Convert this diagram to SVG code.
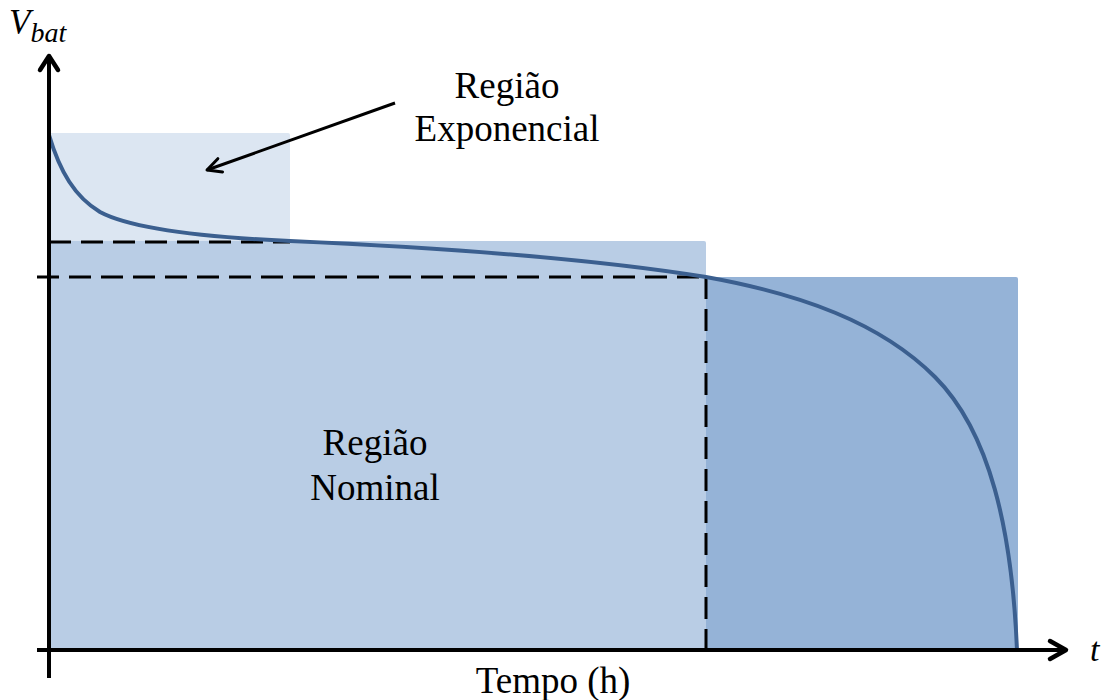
<svg xmlns="http://www.w3.org/2000/svg" width="1107" height="700" viewBox="0 0 1107 700">
<style>
.lbl{font-family:"Liberation Serif",Tinos,"Times New Roman","DejaVu Serif",serif;font-size:37px;fill:#000;text-anchor:middle}
.mth{font-family:"Liberation Serif",Tinos,"Times New Roman","DejaVu Serif",serif;font-style:italic;fill:#000}
.dash{stroke:#000;stroke-width:3;stroke-dasharray:22 10;fill:none}
.axis{stroke:#000;stroke-width:4;fill:none}
.head{stroke:#000;stroke-width:4.5;fill:none;stroke-linecap:round;stroke-linejoin:round}
</style>
<defs>
<marker id="openlg" viewBox="0 0 20 20" refX="17" refY="10" markerWidth="20" markerHeight="20" orient="auto" markerUnits="userSpaceOnUse">
<path d="M3,3 L17,10 L3,17" fill="none" stroke="#000" stroke-width="3" stroke-linecap="round" stroke-linejoin="round"/>
</marker>
</defs>
<g id="regions">
<rect id="exp-region" x="49" y="133" width="241" height="110" rx="2" fill="#dce6f2"/>
<rect id="nominal-region" x="49" y="241" width="657" height="409" rx="2" fill="#b9cde5"/>
<rect id="end-region" x="706" y="277" width="312" height="373" rx="2" fill="#95b3d7"/>
</g>
<g id="guides">
<line class="dash" x1="49" y1="242" x2="290" y2="242"/>
<line class="dash" x1="37" y1="277" x2="706" y2="277"/>
<line class="dash" x1="706" y1="277" x2="706" y2="650"/>
</g>
<g id="curve">
<path d="M49,135 C60,172 75,197 100,212 C130,228 200,237 290,241 C450,248 600,260 706,277 C800,294 880,322 935,377 C990,432 1012,530 1017,650" fill="none" stroke="#3b5f8f" stroke-width="4"/>
</g>
<g id="connectors">
<line class="axis" x1="49" y1="678" x2="49" y2="58"/>
<polyline class="head" points="40,70 49,56 58,70"/>
<line class="axis" x1="37" y1="650" x2="1064" y2="650"/>
<polyline class="head" points="1050,641 1066,650 1050,659"/>
<line x1="395" y1="103" x2="207" y2="170" stroke="#000" stroke-width="3" marker-end="url(#openlg)"/>
</g>
<g id="labels">
<text class="lbl" x="507" y="98">Região</text>
<text class="lbl" x="507" y="141">Exponencial</text>
<text class="lbl" x="375" y="455">Região</text>
<text class="lbl" x="375" y="500">Nominal</text>
<text class="lbl" x="553" y="693">Tempo (h)</text>
<text class="mth" x="9" y="34" font-size="35">V<tspan font-size="28" dy="8">bat</tspan></text>
<text class="mth" x="1090" y="661" font-size="34">t</text>
</g>
</svg>
